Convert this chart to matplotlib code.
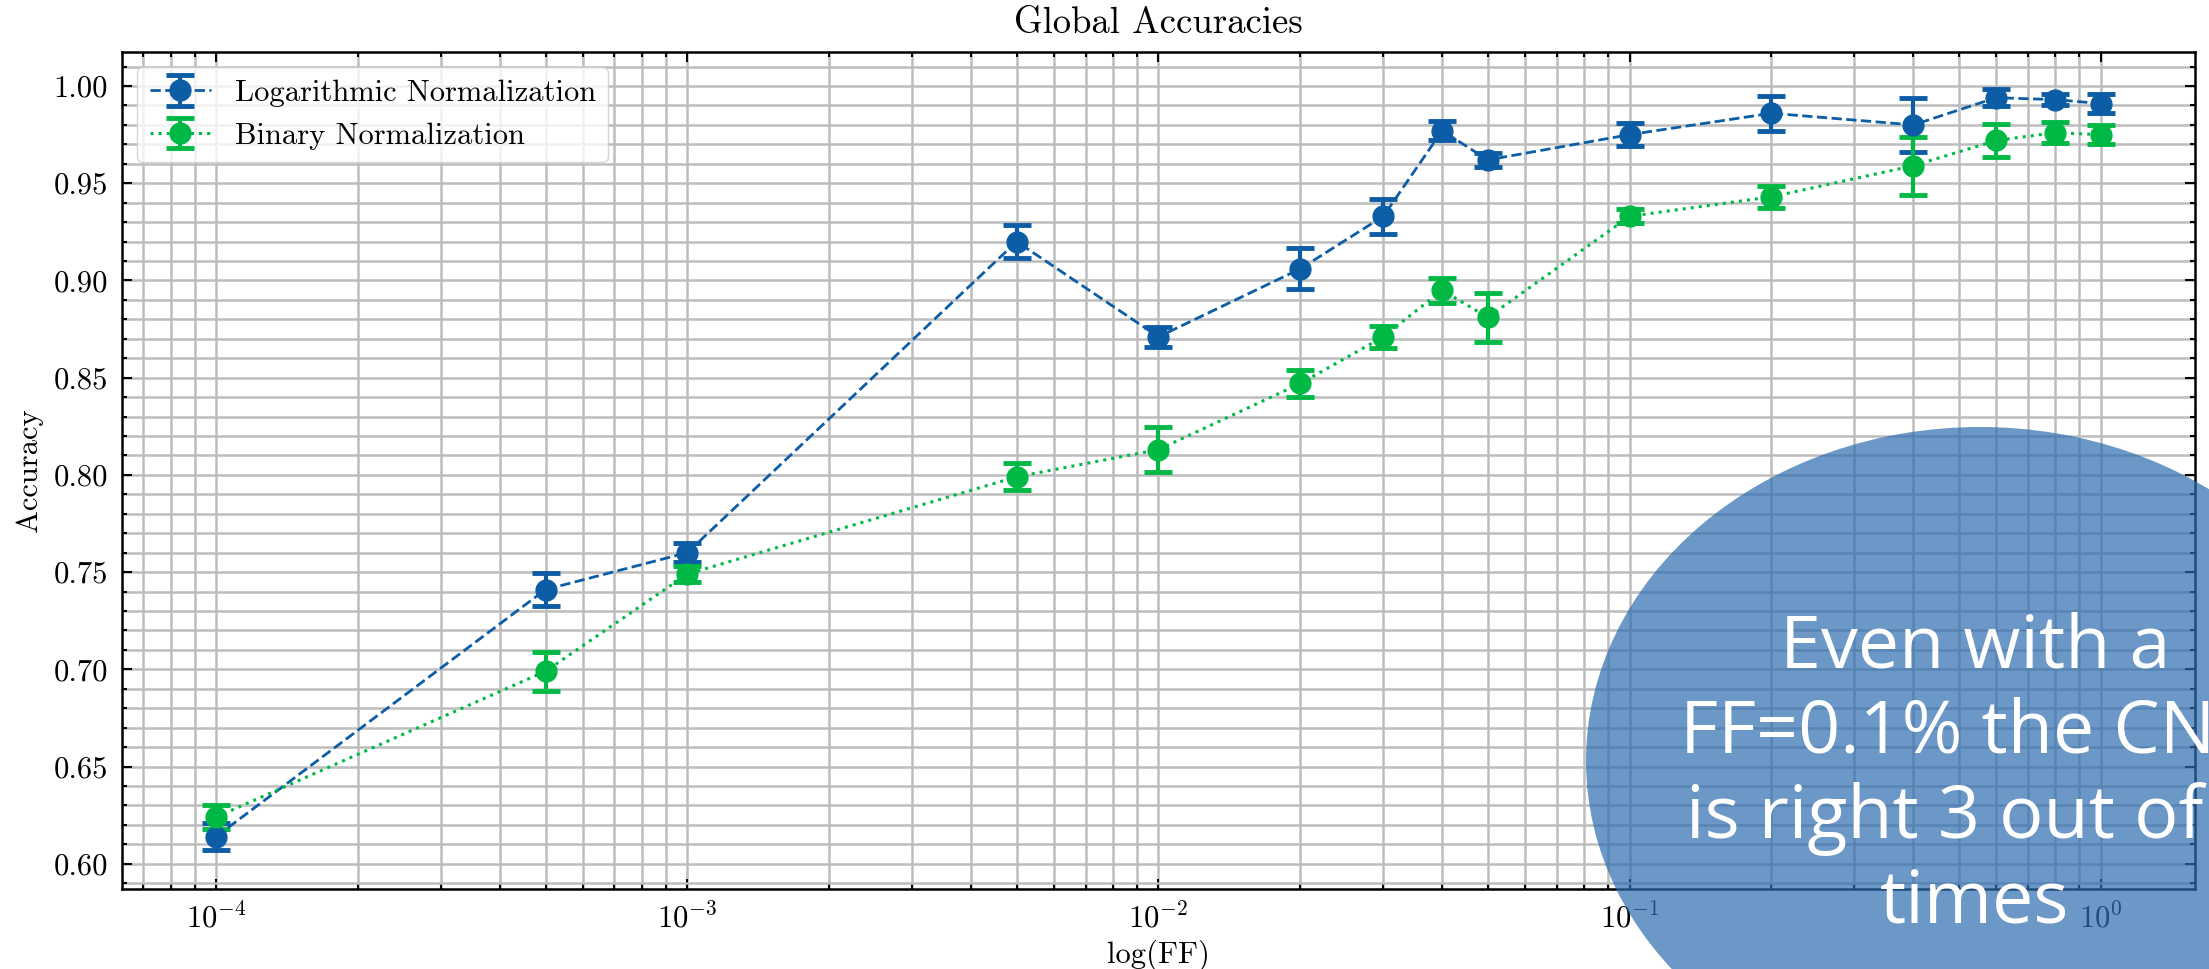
import numpy as np
import matplotlib.pyplot as plt
from matplotlib.patches import Ellipse
from matplotlib.ticker import MultipleLocator, LogLocator, NullFormatter, FormatStrFormatter

# fill factor values and accuracies
ff = [1e-4, 5e-4, 1e-3, 5e-3, 1e-2, 2e-2, 3e-2, 4e-2, 5e-2, 1e-1, 2e-1, 4e-1, 6e-1, 8e-1, 1.0]
log_acc = [0.614, 0.741, 0.760, 0.920, 0.871, 0.906, 0.933, 0.977, 0.962, 0.975,
           0.986, 0.980, 0.994, 0.993, 0.991]
log_err = [0.007, 0.0085, 0.005, 0.0085, 0.005, 0.0105, 0.009, 0.005, 0.0035, 0.006,
           0.009, 0.014, 0.0045, 0.003, 0.005]
bin_acc = [0.624, 0.699, 0.749, 0.799, 0.813, 0.847, 0.871, 0.895, 0.881, 0.933,
           0.943, 0.959, 0.972, 0.976, 0.975]
bin_err = [0.006, 0.010, 0.004, 0.007, 0.0115, 0.007, 0.0055, 0.0065, 0.0125, 0.0035,
           0.0055, 0.0148, 0.0085, 0.0055, 0.005]

note = "Even with a\nFF=0.1% the CNN\nis right 3 out of 4\ntimes"

plt.rcParams['font.family'] = 'serif'
plt.rcParams['font.serif'] = ['cmr10']
plt.rcParams['mathtext.fontset'] = 'cm'
plt.rcParams['axes.formatter.use_mathtext'] = True
plt.rcParams['axes.unicode_minus'] = False
plt.rcParams['font.size'] = 22

W, H = 2209, 969
fig = plt.figure(figsize=(W / 100, H / 100), dpi=100)
ax = fig.add_axes([122 / W, 1 - 889 / H, (2195 - 122) / W, (889 - 52) / H])

blue = '#0C5DA5'
green = '#00B945'

ax.errorbar(ff, log_acc, yerr=log_err, fmt='o--', color=blue, ms=15, lw=2,
            elinewidth=3, capsize=10, capthick=3.5, label='Logarithmic Normalization', zorder=3)
ax.errorbar(ff, bin_acc, yerr=bin_err, fmt='o:', color=green, ms=15, lw=2.2,
            elinewidth=3, capsize=10, capthick=3.5, label='Binary Normalization', zorder=3)

ax.set_xscale('log')
ax.set_xlim(10 ** -4.2, 10 ** 0.2)
ax.set_ylim(0.587, 1.0175)
ax.yaxis.set_major_locator(MultipleLocator(0.05))
ax.yaxis.set_minor_locator(MultipleLocator(0.01))
ax.yaxis.set_major_formatter(FormatStrFormatter('%.2f'))
ax.xaxis.set_minor_locator(LogLocator(base=10, subs=np.arange(2, 10)))
ax.xaxis.set_minor_formatter(NullFormatter())

ax.set_axisbelow(True)
ax.grid(which='both', color='#bdbdbd', linewidth=1.8)
ax.tick_params(which='both', direction='in', top=True, right=True, width=1.5)
ax.tick_params(which='major', length=7, pad=10)
ax.tick_params(which='minor', length=3.5)
for s in ax.spines.values():
    s.set_linewidth(1.8)

ax.set_title('Global Accuracies', pad=14)
ax.set_xlabel('log(FF)', labelpad=4)
ax.set_ylabel('Accuracy', labelpad=8)
ax.legend(loc='upper left', fancybox=True, framealpha=0.8, edgecolor='#cccccc',
          borderpad=0.4, handlelength=2.0)

# overlay callout
fig.add_artist(Ellipse((1980 / W, 1 - 761 / H), 2 * 394 / W, 2 * 334 / H,
                       transform=fig.transFigure, facecolor='#2E6DB0', alpha=0.7,
                       edgecolor='none', zorder=10))
fig.text(1975 / W, 1 - 776 / H, note, ha='center', va='center', color='white',
         fontsize=53, family='Open Sans', linespacing=1.2, zorder=11)

fig.savefig('out.png', dpi=100)
